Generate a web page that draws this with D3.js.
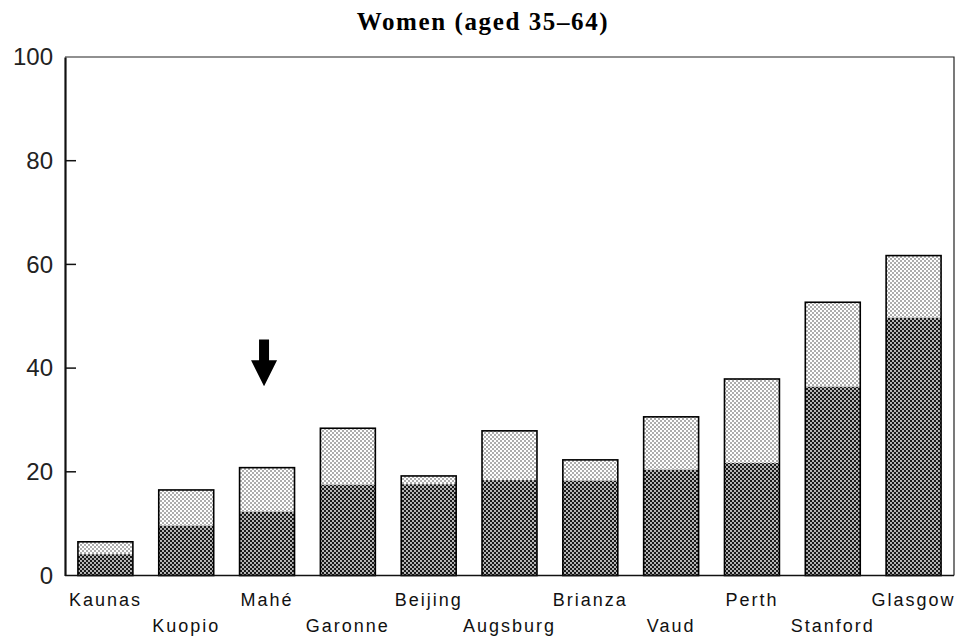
<!DOCTYPE html>
<html>
<head>
<meta charset="utf-8">
<script src="https://cdn.jsdelivr.net/npm/d3@7"></script>
<style>
  body { margin: 0; background: #fff; }
  svg { display: block; }
</style>
</head>
<body>
<svg width="963" height="642"></svg>
<script>
// cities, left to right
var cities = ["Kaunas", "Kuopio", "Mahé", "Garonne", "Beijing", "Augsburg", "Brianza", "Vaud", "Perth", "Stanford", "Glasgow"];
// dark lower part of each bar
var lower = [4.1, 9.6, 12.3, 17.5, 17.6, 18.4, 18.3, 20.4, 21.7, 36.4, 49.7];
// total bar height (lower + light upper part)
var total = [6.5, 16.5, 20.8, 28.4, 19.2, 27.9, 22.3, 30.6, 37.9, 52.7, 61.7];
var yTicks = [0, 20, 40, 60, 80, 100];
var arrowCity = "Mahé";

var svg = d3.select("svg");
var pLeft = 65, pRight = 954, pTop = 57, pBottom = 575.5;

var x = d3.scaleBand().domain(cities).range([pLeft, pRight]).paddingInner(0.32).paddingOuter(0.16);
var y = d3.scaleLinear().domain([0, 100]).range([pBottom, pTop]);

// halftone patterns
var defs = svg.append("defs");
var dark = defs.append("pattern").attr("id", "dark").attr("patternUnits", "userSpaceOnUse")
  .attr("width", 4).attr("height", 4);
dark.append("rect").attr("width", 4).attr("height", 4).attr("fill", "#1a1a1a");
dark.append("circle").attr("cx", 1).attr("cy", 1).attr("r", 0.9).attr("fill", "#fff");
dark.append("circle").attr("cx", 3).attr("cy", 3).attr("r", 0.9).attr("fill", "#fff");

var light = defs.append("pattern").attr("id", "light").attr("patternUnits", "userSpaceOnUse")
  .attr("width", 4).attr("height", 4);
light.append("rect").attr("width", 4).attr("height", 4).attr("fill", "#fff");
light.append("circle").attr("cx", 1).attr("cy", 1).attr("r", 0.75).attr("fill", "#333");
light.append("circle").attr("cx", 3).attr("cy", 3).attr("r", 0.75).attr("fill", "#333");

// title
svg.append("text")
  .attr("x", 483).attr("y", 30)
  .attr("text-anchor", "middle")
  .style("font-family", "'Liberation Serif', 'Times New Roman', serif")
  .style("font-weight", "bold")
  .style("font-size", "25px")
  .style("letter-spacing", "1.6px")
  .text("Women (aged 35\u201364)");

// frame
svg.append("path")
  .attr("d", "M" + pLeft + "," + pTop + "H" + pRight + "V" + pBottom)
  .attr("fill", "none").attr("stroke", "#222").attr("stroke-width", 1.2);

// bars
var bars = svg.append("g").selectAll("g")
  .data(cities)
  .enter().append("g");

bars.append("rect")
  .attr("x", function(d) { return x(d); })
  .attr("y", function(d, i) { return y(total[i]); })
  .attr("width", x.bandwidth())
  .attr("height", function(d, i) { return y(lower[i]) - y(total[i]); })
  .attr("fill", "url(#light)");

bars.append("rect")
  .attr("x", function(d) { return x(d); })
  .attr("y", function(d, i) { return y(lower[i]); })
  .attr("width", x.bandwidth())
  .attr("height", function(d, i) { return y(0) - y(lower[i]); })
  .attr("fill", "url(#dark)");

bars.append("rect")
  .attr("x", function(d) { return x(d); })
  .attr("y", function(d, i) { return y(total[i]); })
  .attr("width", x.bandwidth())
  .attr("height", function(d, i) { return y(0) - y(total[i]); })
  .attr("fill", "none").attr("stroke", "#000").attr("stroke-width", 1.6);

// y axis
var yAxis = d3.axisLeft(y).tickValues(yTicks).tickSize(0).tickPadding(12);
var ga = svg.append("g").attr("transform", "translate(" + pLeft + ",0)").call(yAxis);
ga.select(".domain").attr("stroke", "#111").attr("stroke-width", 2.2);
ga.selectAll("text")
  .style("font-family", "'Liberation Sans', Arial, sans-serif")
  .style("font-size", "24px").attr("fill", "#222");
// short inward ticks
svg.append("g").selectAll("line")
  .data(yTicks.filter(function(t) { return t > 0 && t < 100; }))
  .enter().append("line")
  .attr("x1", pLeft).attr("x2", pLeft + 11)
  .attr("y1", function(d) { return y(d); }).attr("y2", function(d) { return y(d); })
  .attr("stroke", "#111").attr("stroke-width", 1.5);

// baseline
svg.append("line").attr("x1", pLeft).attr("x2", pRight)
  .attr("y1", pBottom).attr("y2", pBottom)
  .attr("stroke", "#111").attr("stroke-width", 1.6);

// city labels, alternating rows
svg.append("g").selectAll("text")
  .data(cities)
  .enter().append("text")
  .attr("x", function(d) { return x(d) + x.bandwidth() / 2; })
  .attr("y", function(d, i) { return i % 2 === 0 ? 606 : 632; })
  .attr("text-anchor", "middle")
  .style("font-family", "'Liberation Sans', Arial, sans-serif")
  .style("font-size", "18px")
  .style("letter-spacing", "2px")
  .attr("fill", "#111")
  .text(function(d) { return d; });

// arrow above Mahé
var ax = x(arrowCity) + x.bandwidth() / 2 - 3;
var tip = y(36.5), head = y(41.5), tail = y(45.5);
svg.append("path")
  .attr("d", "M" + (ax - 5) + "," + tail + "H" + (ax + 5) + "V" + head + "H" + (ax + 13) +
    "L" + ax + "," + tip + "L" + (ax - 13) + "," + head + "H" + (ax - 5) + "Z")
  .attr("fill", "#000");
</script>
</body>
</html>
